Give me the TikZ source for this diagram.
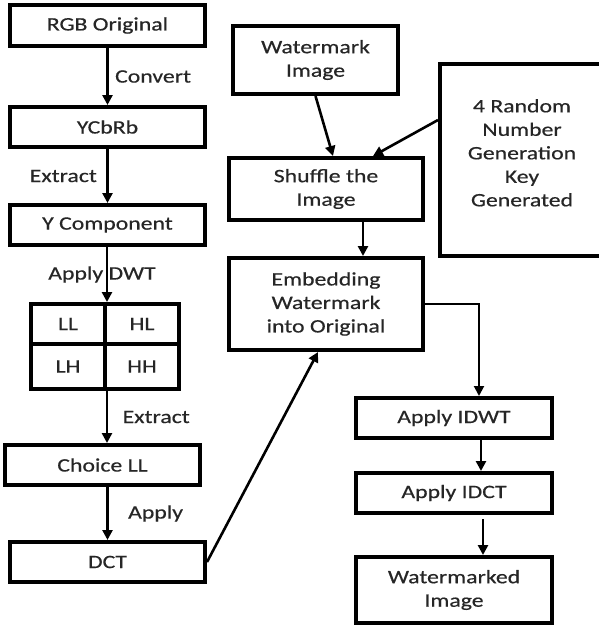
\documentclass[tikz,border=0pt]{standalone}
\usepackage{fontspec}
\setmainfont[FakeStretch=1.25,FakeBold=0.5]{Carlito}
\usetikzlibrary{arrows.meta,positioning}
\tikzstyle{txt}=[font=\fontsize{19}{23.5}\selectfont, text=black!85]
\tikzstyle{blk}=[draw, line width=4pt, align=center, inner sep=0pt, txt]
\tikzstyle{cell}=[blk, minimum width=74pt]
\tikzstyle{arr}=[line width=2.6pt, -{Triangle[length=10pt,width=10pt]}]

\begin{document}
\begin{tikzpicture}[x=1pt,y=-1pt]
	\useasboundingbox (0,0) rectangle (598,626);
	% left column
	\node[blk, minimum width=195pt, minimum height=41pt] (rgb) at (107.5,25.5) {RGB Original};
	\node[blk, minimum width=195pt, minimum height=40pt] (ycb) at (107.5,127) {YCbRb};
	\node[blk, minimum width=195pt, minimum height=40pt] (ycomp) at (107.5,225) {Y Component};
	\node[cell, minimum height=40pt] (ll) at (68,324) {LL};
	\node[cell, minimum height=40pt] (hl) at (142,324) {HL};
	\node[cell, minimum height=45pt] (lh) at (68,366.5) {LH};
	\node[cell, minimum height=45pt] (hh) at (142,366.5) {HH};
	\node[blk, minimum width=195pt, minimum height=40pt] (choice) at (102.5,465) {Choice LL};
	\node[blk, minimum width=195pt, minimum height=40pt] (dct) at (107.5,562) {DCT};
	% right part
	\node[blk, minimum width=165pt, minimum height=68pt] (wm) at (315.5,60) {Watermark\\Image};
	\node[blk, minimum width=164pt, minimum height=192pt] (key) at (522,160) {4 Random\\Number\\Generation\\Key\\Generated\\[-9pt]\mbox{}};
	\node[blk, minimum width=194pt, minimum height=62pt] (shuffle) at (326,189) {Shuffle the\\Image};
	\node[blk, minimum width=194pt, minimum height=92pt] (embed) at (326,304) {Embedding\\Watermark\\into Original};
	\node[blk, minimum width=196pt, minimum height=40pt] (idwt) at (454,418) {Apply IDWT};
	\node[blk, minimum width=196pt, minimum height=40pt] (idct) at (454,493) {Apply IDCT};
	\node[blk, minimum width=196pt, minimum height=66pt] (wmd) at (454,590) {Watermarked\\Image};
	% connectors
	\draw[arr] (rgb) to node[txt, right=3pt] {Convert} (ycb);
	\draw[arr] (ycb) to node[txt, left=6pt] {Extract} (ycomp);
	\draw[arr] (ycomp.south -| ll.north east) to node[txt, xshift=-5pt] {Apply DWT} (ll.north east);
	\draw[arr] (lh.south east) to node[txt, right=11pt] {Extract} (lh.south east |- choice.north);
	\draw[arr] (dct.north |- choice.south) to node[txt, right=16pt] {Apply} (dct.north);
	\draw[arr] (dct.east) to ([xshift=-8pt]embed.south);
	\draw[arr] (wm.south) to ([xshift=7pt]shuffle.north);
	\draw[arr] ([yshift=40pt]key.west) to ([xshift=47pt]shuffle.north);
	\draw[arr] ([xshift=37pt]shuffle.south) to ([xshift=37pt]embed.north);
	\draw[arr, line width=2pt] (embed.east) -| ([xshift=25pt]idwt.north);
	\draw[arr] ([xshift=27pt]idwt.south) to ([xshift=27pt]idct.north);
	\draw[arr, shorten <=4pt] ([xshift=29pt]idct.south) to ([xshift=29pt]wmd.north);
\end{tikzpicture}
\end{document}
